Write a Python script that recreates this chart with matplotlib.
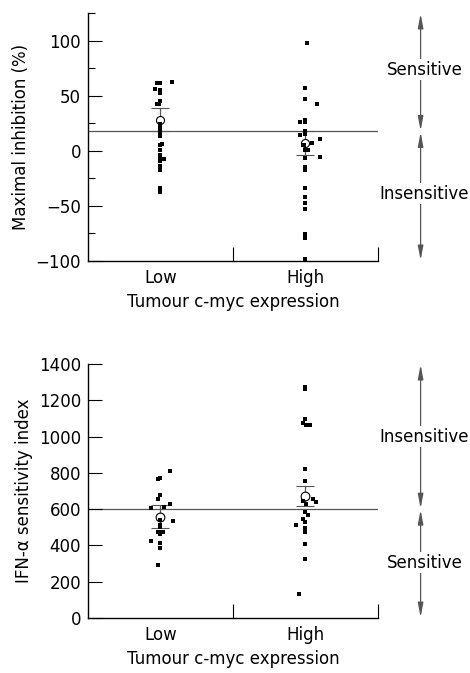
'''c-myc expression vs IFN-alpha response, two dot plots.
'''

import numpy as np
import matplotlib
matplotlib.use("Agg")
import matplotlib.pyplot as plt

plt.rcParams['font.family'] = ['DejaVu Sans']

categories = ["Low", "High"]

# top panel: maximal inhibition (%) per tumour
inhib_low = [61.5, 61.5, 62.4, 56, 54.8, 52.4, 45.2, 42.4, 42.4, 24.5, 22.1, 18.5, 16.1,
             13.6, 6.4, 5.2, 0.9, -3.6, -7.3, -7.3, -9.1, -13.6, -17.3, -34, -37.6]
inhib_high = [97.9, 57, 47.3, 42.7, 28.2, 26.4, 25.8, 17.6, 15.5, 14.5, 10.6, 7, 5.5, 5.5,
              0.9, 0.9, -5.8, -6.7, -14.8, -17.3, -34, -42.1, -47.6, -52.7, -75.5, -79.4, -98.5]
inhib_mean = [28.2, 7.0]
inhib_sem = [10.3, 10.6]
inhib_cutoff = 17.5

# bottom panel: IFN-alpha sensitivity index per tumour
index_low = [810, 770, 766, 678, 654, 628, 614, 606, 540, 513, 503, 533, 476, 476, 476,
             463, 423, 412, 384, 290]
index_high = [1271, 1261, 1095, 1073, 1064, 1064, 823, 757, 654, 639, 643, 628, 584, 566,
              544, 529, 514, 494, 474, 410, 323, 131]
index_mean = [559, 672]
index_sem = [64, 57]
index_cutoff = 600

# horizontal scatter of the dots inside each column (as drawn in the figure)
jit_inhib_low = [-0.023, 0, 0.076, -0.035, 0, 0, 0, -0.025, -0.011, 0, 0, 0, 0,
                 0, 0.012, 0, 0, 0, 0, 0.026, 0, 0, 0, 0, 0]
jit_inhib_high = [0.01, 0, 0, 0.079, 0, 0, -0.037, 0, 0, -0.037, 0.097, 0.048, -0.018, -0.009,
                  0, 0.019, 0.097, 0, 0, 0, 0, 0, 0, 0, 0, 0, 0]
jit_index_low = [0.069, 0, -0.014, 0, -0.014, 0.069, 0.023, -0.067, 0, 0, 0, 0.085, -0.019, 0, 0.014,
                 0, -0.067, 0, 0, -0.014]
jit_index_high = [0, 0, 0, -0.014, 0.005, 0.032, 0, 0, 0.055, 0.074, -0.014, 0.005, 0, 0.019,
                  -0.014, 0, -0.064, 0, 0, 0, 0, -0.048]

grey = '#555555'


def dot_panel(ax, low, high, jit_low, jit_high, mean, sem, cutoff, ms_mean):
    ''' column scatter with mean +/- sem and cut-off line '''
    ax.axhline(cutoff, color=grey, lw=0.9, zorder=1)
    ax.errorbar([0.5, 1.5], mean, yerr=sem, fmt='o', ms=ms_mean, mfc='white', mec='black',
                mew=0.8, ecolor=grey, elinewidth=0.9, capsize=6.5, capthick=0.9, zorder=2)
    ax.plot(0.5 + np.array(jit_low), low, 's', color='black', ms=2.3, mew=0, zorder=3)
    ax.plot(1.5 + np.array(jit_high), high, 's', color='black', ms=2.3, mew=0, zorder=3)

    ax.set_xlim(0, 2)
    ax.spines[['top', 'right']].set_visible(False)
    for s in ['left', 'bottom']:
        ax.spines[s].set_linewidth(1.0)
    ax.set_xticks([1, 2])
    ax.set_xticklabels([])
    ax.set_xticks([0.5, 1.5], minor=True)
    ax.set_xticklabels(categories, minor=True, fontsize=12)
    ax.tick_params(axis='x', which='major', direction='in', length=10, width=0.8)
    ax.tick_params(axis='x', which='minor', length=0, pad=6)
    ax.tick_params(axis='y', which='major', direction='in', length=10, width=0.8, labelsize=12, pad=5)
    ax.tick_params(axis='y', which='minor', direction='in', length=5, width=0.8)
    ax.set_xlabel("Tumour c-myc expression", fontsize=12, labelpad=4)


def side_arrows(ax, top, mid, bottom, upper_text, upper_y, lower_text, lower_y):
    ''' the double arrows with Sensitive / Insensitive to the right '''
    tr = ax.get_yaxis_transform()
    style = '<|-|>,head_length=0.85,head_width=0.16'
    for a, b in [(top, mid), (mid, bottom)]:
        ax.annotate('', xy=(1.147, a), xytext=(1.147, b), xycoords=tr, textcoords=tr,
                    annotation_clip=False,
                    arrowprops=dict(arrowstyle=style, color=grey, lw=0.9, shrinkA=0.5, shrinkB=0.5,
                                    mutation_scale=10))
    for txt, y in [(upper_text, upper_y), (lower_text, lower_y)]:
        ax.text(1.16, y, txt, transform=tr, ha='center', va='center', fontsize=12, zorder=5,
                bbox=dict(fc='white', ec='none', pad=1))


fig = plt.figure(figsize=(4.7, 6.73), dpi=100)
ax1 = fig.add_axes([0.1872, 0.6122, 0.617, 0.3685])
ax2 = fig.add_axes([0.1872, 0.0817, 0.617, 0.3774])

# top: maximal inhibition
dot_panel(ax1, inhib_low, inhib_high, jit_inhib_low, jit_inhib_high,
          inhib_mean, inhib_sem, inhib_cutoff, ms_mean=5.8)
ax1.set_ylim(-100, 125)
ax1.set_yticks([-100, -50, 0, 50, 100])
ax1.set_yticks([-75, -25, 25, 75, 125], minor=True)
ax1.set_ylabel("Maximal inhibition (%)", fontsize=12, labelpad=4)
side_arrows(ax1, 125, inhib_cutoff, -100, "Sensitive", 73.6, "Insensitive", -39)

# bottom: sensitivity index
dot_panel(ax2, index_low, index_high, jit_index_low, jit_index_high,
          index_mean, index_sem, index_cutoff, ms_mean=6.3)
ax2.set_ylim(0, 1400)
ax2.set_yticks(np.arange(0, 1401, 200))
ax2.set_ylabel("IFN-α sensitivity index", fontsize=12, labelpad=4)
side_arrows(ax2, 1400, index_cutoff, 0, "Insensitive", 1000, "Sensitive", 305)

fig.savefig("out.png", dpi=100)
